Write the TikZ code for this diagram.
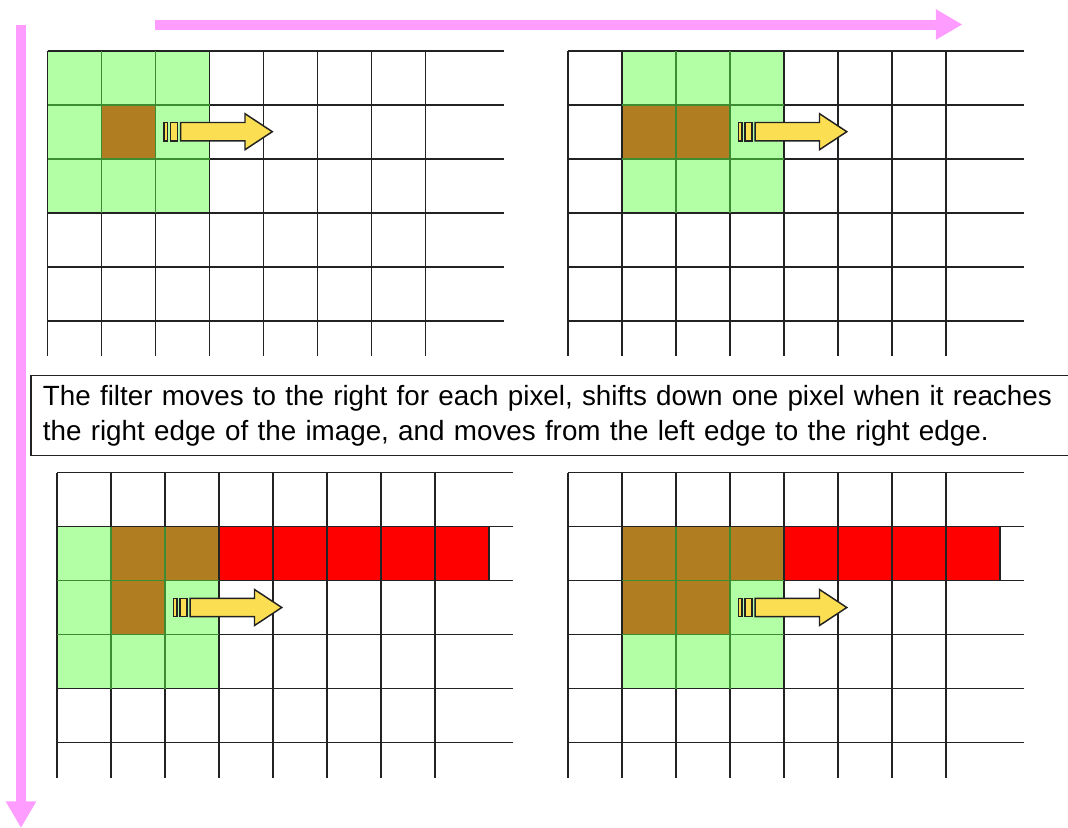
\documentclass[tikz,border=0pt]{standalone}
\usepackage{fontspec}
\setmainfont{Liberation Sans}
\usetikzlibrary{arrows.meta}

\definecolor{gridline}{HTML}{222222}
\definecolor{filtergreen}{HTML}{B3FFA6}
\definecolor{innergreen}{HTML}{3C8C32}
\definecolor{centrebrown}{HTML}{B07E20}
\definecolor{donered}{HTML}{FF0000}
\definecolor{arrowyellow}{HTML}{FCDE52}
\definecolor{scanpink}{HTML}{FF9CFF}

\begin{document}
\begin{tikzpicture}[x=0.75pt, y=-0.75pt,
    gridrule/.style={draw=gridline, line width=1.35pt},
    innerrule/.style={draw=innergreen, line width=1.35pt},
    redcell/.style={fill=donered, draw=gridline, line width=1.35pt},
    arrowbody/.style={fill=arrowyellow, draw=gridline, line width=1.1pt, line join=miter},
    scanarrow/.style={draw=scanpink, line width=7.5pt, -{Triangle[length=20pt, width=21.5pt]}},
    notebox/.style={draw=gridline, line width=1.3pt, fill=white, inner xsep=9pt, inner ysep=0pt, minimum height=60pt, text width=780pt, align=left, font=\fontsize{20.85}{26.25}\selectfont},
    pixelgrid/.pic={
        \foreach \c in {0,...,7}
            \draw[gridrule] (\c*54,0) -- (\c*54,305);
        \foreach \r in {0,...,5}
            \draw[gridrule] (0,\r*54) -- (456,\r*54);
    },
    movearrow/.pic={
        \filldraw[arrowbody] (8.5,-9.2) rectangle (11.8,9.2);
        \filldraw[arrowbody] (15.2,-9.2) rectangle (21.8,9.2);
        \filldraw[arrowbody] (25.2,-9.2) -- (89.5,-9.2) -- (89.5,-18) -- (116.8,0) -- (89.5,18) -- (89.5,9.2) -- (25.2,9.2) -- cycle;
    }]
\useasboundingbox (0,0) rectangle (1068,828);

% scan direction
\coordinate (colstart) at (155,24.5);
\coordinate (colend) at (962.5,24.5);
\coordinate (rowstart) at (21,25);
\coordinate (rowend) at (21,828);
\draw[scanarrow] (colstart) -- (colend);
\draw[scanarrow] (rowstart) -- (rowend);

% first position
\begin{scope}[shift={(47.5,50.7)}]
    \fill[filtergreen] (0,0) rectangle (162,162);
    \fill[centrebrown] (54,54) rectangle (108,108);
    \pic {pixelgrid};
    \foreach \k in {54,108} {
        \draw[innerrule] (\k,0) -- (\k,162);
        \draw[innerrule] (0,\k) -- (162,\k);
    }
    \pic at (108,81) {movearrow};
\end{scope}

% one pixel to the right
\begin{scope}[shift={(568,50.7)}]
    \fill[filtergreen] (54,0) rectangle (216,162);
    \fill[centrebrown] (54,54) rectangle (162,108);
    \pic {pixelgrid};
    \foreach \k in {108,162}
        \draw[innerrule] (\k,0) -- (\k,162);
    \foreach \k in {54,108}
        \draw[innerrule] (54,\k) -- (216,\k);
    \pic at (162,81) {movearrow};
\end{scope}

\node[notebox, anchor=west] (note) at (30,415.5) {The filter moves to the right for each pixel, shifts down one pixel when it reaches\\the right edge of the image, and moves from the left edge to the right edge.};

% next row, left edge
\begin{scope}[shift={(57,472.5)}]
    \fill[filtergreen] (0,54) rectangle (162,216);
    \fill[centrebrown] (54,54) rectangle (162,108);
    \fill[centrebrown] (54,108) rectangle (108,162);
    \foreach \c in {3,...,7}
        \filldraw[redcell] (\c*54,54) rectangle +(54,54);
    \pic {pixelgrid};
    \foreach \k in {54,108}
        \draw[innerrule] (\k,54) -- (\k,216);
    \foreach \k in {108,162}
        \draw[innerrule] (0,\k) -- (162,\k);
    \pic at (108,135) {movearrow};
\end{scope}

% next row, one pixel to the right
\begin{scope}[shift={(568,472.5)}]
    \fill[filtergreen] (54,54) rectangle (216,216);
    \fill[centrebrown] (54,54) rectangle (216,108);
    \fill[centrebrown] (54,108) rectangle (162,162);
    \foreach \c in {4,...,7}
        \filldraw[redcell] (\c*54,54) rectangle +(54,54);
    \pic {pixelgrid};
    \foreach \k in {108,162}
        \draw[innerrule] (\k,54) -- (\k,216);
    \foreach \k in {108,162}
        \draw[innerrule] (54,\k) -- (216,\k);
    \pic at (162,135) {movearrow};
\end{scope}
\end{tikzpicture}
\end{document}
